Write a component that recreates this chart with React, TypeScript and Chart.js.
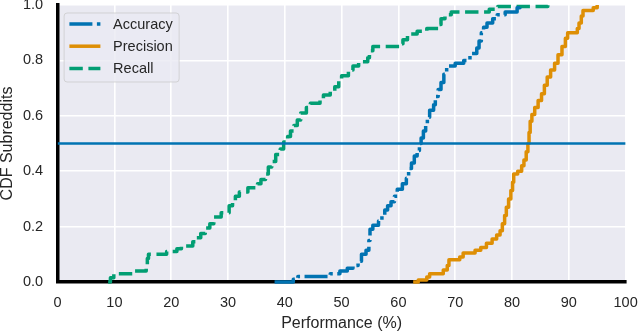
import React, { useEffect, useRef } from 'react';
import { Chart, registerables } from 'chart.js';

Chart.register(...registerables);

const accuracyX = [38.2, 41.5, 42.3, 48.0, 49.7, 51.0, 52.0, 52.9, 53.5, 54.3, 54.8, 55.0, 55.5, 56.5, 57.1, 57.6, 58.1, 58.7, 59.3, 59.8, 60.7, 61.4, 61.8, 62.3, 62.8, 63.3, 63.7, 64.0, 64.4, 64.8, 65.1, 65.5, 66.2, 66.5, 67.0, 67.5, 68.0, 68.5, 70.0, 71.5, 72.6, 73.8, 74.2, 74.6, 75.0, 75.6, 76.6, 77.4, 78.8, 80.9, 81.4];
const accuracyY = [0.0, 0.01, 0.02, 0.03, 0.04, 0.05, 0.06, 0.075, 0.1, 0.115, 0.15, 0.19, 0.205, 0.22, 0.24, 0.26, 0.275, 0.29, 0.31, 0.335, 0.355, 0.375, 0.41, 0.43, 0.455, 0.475, 0.5, 0.52, 0.545, 0.565, 0.595, 0.62, 0.64, 0.67, 0.695, 0.72, 0.75, 0.78, 0.79, 0.8, 0.825, 0.845, 0.87, 0.9, 0.92, 0.935, 0.95, 0.965, 0.975, 0.99, 1.0];

const precisionX = [62.6, 63.5, 65.0, 65.5, 67.9, 68.6, 68.9, 70.8, 71.4, 73.5, 74.5, 75.5, 76.5, 77.3, 77.9, 78.3, 78.7, 79.0, 79.4, 79.8, 80.1, 80.3, 81.0, 81.7, 82.1, 82.5, 82.8, 83.0, 83.2, 83.5, 84.0, 84.6, 85.2, 85.7, 86.2, 86.8, 87.5, 88.1, 88.8, 89.4, 89.8, 91.5, 91.8, 92.2, 92.5, 94.3, 95.0];
const precisionY = [0.0, 0.007, 0.018, 0.03, 0.043, 0.06, 0.08, 0.09, 0.105, 0.115, 0.125, 0.14, 0.155, 0.17, 0.185, 0.21, 0.24, 0.27, 0.3, 0.33, 0.36, 0.39, 0.4, 0.42, 0.44, 0.47, 0.5, 0.54, 0.58, 0.605, 0.63, 0.655, 0.68, 0.71, 0.74, 0.765, 0.79, 0.82, 0.85, 0.88, 0.9, 0.915, 0.935, 0.96, 0.98, 0.99, 1.0];

const recallX = [8.9, 9.3, 9.9, 13.5, 15.6, 15.8, 16.0, 19.2, 21.0, 21.8, 23.8, 24.3, 25.2, 26.0, 26.8, 27.5, 28.8, 30.2, 30.8, 31.3, 32.0, 33.5, 35.2, 35.8, 36.6, 37.1, 37.7, 38.4, 39.2, 39.8, 40.5, 41.0, 41.6, 42.2, 42.8, 43.8, 44.5, 46.2, 46.8, 48.0, 48.8, 49.5, 50.0, 51.2, 52.0, 53.0, 54.6, 54.9, 55.5, 60.2, 60.8, 61.6, 63.3, 65.0, 67.0, 67.5, 68.2, 69.3, 76.0, 77.5, 86.3];
const recallY = [0.0, 0.015, 0.03, 0.04, 0.06, 0.085, 0.1, 0.11, 0.12, 0.13, 0.145, 0.16, 0.175, 0.195, 0.21, 0.235, 0.25, 0.275, 0.29, 0.31, 0.325, 0.34, 0.355, 0.37, 0.39, 0.415, 0.435, 0.46, 0.48, 0.505, 0.525, 0.545, 0.565, 0.585, 0.61, 0.63, 0.645, 0.66, 0.675, 0.69, 0.705, 0.725, 0.745, 0.765, 0.78, 0.795, 0.81, 0.835, 0.85, 0.86, 0.875, 0.895, 0.905, 0.915, 0.93, 0.95, 0.965, 0.975, 0.985, 0.995, 1.0];

const thresholdX = [0, 100];
const thresholdY = [0.5, 0.5];

const seriesLabels = ['Accuracy', 'Precision', 'Recall'];
const xTickValues = [0, 10, 20, 30, 40, 50, 60, 70, 80, 90, 100];
const xTickLabels = ['0', '10', '20', '30', '40', '50', '60', '70', '80', '90', '100'];
const yTickValues = [0, 0.2, 0.4, 0.6, 0.8, 1.0];
const yTickLabels = ['0.0', '0.2', '0.4', '0.6', '0.8', '1.0'];
const xTitle = 'Performance (%)';
const yTitle = 'CDF Subreddits';

// ---- Styles ----
const FONT = '"Liberation Sans", Arial, Helvetica, sans-serif';
const TEXT = '#262626';
const BLUE = '#0173b2';
const ORANGE = '#de8f05';
const GREEN = '#029e73';
const LW = 3.5;
const DASHDOT = [23, 4.5, 3.5, 4.5];
const DASHED = [13.4, 5.6];

const toPts = (xs: number[], ys: number[]) => xs.map((x, i) => ({ x, y: ys[i] }));

const bgPlugin = {
  id: 'bgPlugin',
  beforeDraw(chart: any) {
    const { ctx, chartArea } = chart;
    ctx.save();
    ctx.fillStyle = '#eaeaf2';
    ctx.fillRect(chartArea.left, chartArea.top, chartArea.right - chartArea.left, chartArea.bottom - chartArea.top);
    ctx.restore();
  },
};

const legendPlugin = {
  id: 'customLegend',
  afterDatasetsDraw(chart: any) {
    const { ctx, chartArea } = chart;
    const bx = chartArea.left + 6.5;
    const by = chartArea.top + 8;
    const bw = 115;
    const bh = 69;
    ctx.save();
    ctx.beginPath();
    ctx.roundRect(bx, by, bw, bh, 3);
    ctx.fillStyle = 'rgba(234,234,242,0.8)';
    ctx.fill();
    ctx.strokeStyle = 'rgba(204,204,204,0.8)';
    ctx.lineWidth = 1;
    ctx.stroke();
    const styles = [
      { color: BLUE, dash: DASHDOT },
      { color: ORANGE, dash: [] as number[] },
      { color: GREEN, dash: DASHED },
    ];
    seriesLabels.forEach((label, i) => {
      const cy = by + 11 + i * 22.2;
      ctx.beginPath();
      ctx.setLineDash(styles[i].dash);
      ctx.lineCap = 'butt';
      ctx.strokeStyle = styles[i].color;
      ctx.lineWidth = LW;
      ctx.moveTo(bx + 5.3, cy);
      ctx.lineTo(bx + 36.3, cy);
      ctx.stroke();
      ctx.setLineDash([]);
      ctx.fillStyle = TEXT;
      ctx.font = `14.5px ${FONT}`;
      ctx.textBaseline = 'middle';
      ctx.textAlign = 'left';
      ctx.fillText(label, bx + 49, cy + 0.5);
    });
    ctx.restore();
  },
};

export default function App() {
  const ref = useRef<HTMLCanvasElement | null>(null);

  useEffect(() => {
    if (!ref.current) return;
    const chart = new Chart(ref.current, {
      type: 'line',
      data: {
        datasets: [
          {
            label: 'threshold',
            data: toPts(thresholdX, thresholdY),
            borderColor: BLUE,
            borderWidth: 2.5,
            pointRadius: 0,
            fill: false,
          },
          {
            label: seriesLabels[0],
            data: toPts(accuracyX, accuracyY),
            borderColor: BLUE,
            borderWidth: LW,
            borderDash: DASHDOT,
            borderCapStyle: 'butt',
            borderJoinStyle: 'round',
            stepped: 'before',
            pointRadius: 0,
            fill: false,
            clip: false,
          },
          {
            label: seriesLabels[1],
            data: toPts(precisionX, precisionY),
            borderColor: ORANGE,
            borderWidth: LW,
            borderCapStyle: 'butt',
            borderJoinStyle: 'round',
            stepped: 'before',
            pointRadius: 0,
            fill: false,
            clip: false,
          },
          {
            label: seriesLabels[2],
            data: toPts(recallX, recallY),
            borderColor: GREEN,
            borderWidth: LW,
            borderDash: DASHED,
            borderCapStyle: 'butt',
            borderJoinStyle: 'round',
            stepped: 'before',
            pointRadius: 0,
            fill: false,
            clip: false,
          },
        ],
      },
      options: {
        responsive: false,
        animation: false,
        events: [],
        layout: { padding: { top: 5, right: 12.4, left: 0, bottom: 0 } },
        plugins: {
          legend: { display: false },
          tooltip: { enabled: false },
        },
        scales: {
          x: {
            type: 'linear',
            min: 0,
            max: 100,
            afterBuildTicks: (scale: any) => {
              scale.ticks = xTickValues.map((v) => ({ value: v }));
            },
            afterFit: (scale: any) => {
              scale.height = 52;
              scale.paddingLeft = 0;
              scale.paddingRight = 0;
            },
            ticks: {
              autoSkip: false,
              maxRotation: 0,
              padding: 12.3,
              color: TEXT,
              font: { family: FONT, size: 14.5 },
              callback: (_v: any, i: number) => xTickLabels[i],
            },
            grid: { color: '#ffffff', lineWidth: 1.6, drawTicks: false },
            border: { display: true, color: '#000000', width: 3.5 },
            title: {
              display: true,
              text: xTitle,
              color: TEXT,
              font: { family: FONT, size: 16, lineHeight: 1 },
              padding: { top: 0, bottom: 2.5 },
            },
          },
          y: {
            type: 'linear',
            min: 0,
            max: 1,
            afterBuildTicks: (scale: any) => {
              scale.ticks = yTickValues.map((v) => ({ value: v }));
            },
            afterFit: (scale: any) => {
              scale.width = 57.6;
              scale.paddingTop = 0;
              scale.paddingBottom = 0;
            },
            ticks: {
              autoSkip: false,
              padding: 14.5,
              color: TEXT,
              font: { family: FONT, size: 14.5 },
              callback: (_v: any, i: number) => yTickLabels[i],
            },
            grid: { color: '#ffffff', lineWidth: 1.6, drawTicks: false },
            border: { display: true, color: '#000000', width: 3.5 },
            title: {
              display: true,
              text: yTitle,
              color: TEXT,
              font: { family: FONT, size: 16, lineHeight: 1 },
              padding: { top: 0, bottom: 0 },
            },
          },
        },
      },
      plugins: [bgPlugin, legendPlugin],
    } as any);
    return () => chart.destroy();
  }, []);

  return (
    <div style={{ position: 'absolute', left: 0, top: 0, width: 638, height: 334 }}>
      <canvas ref={ref} width={638} height={334} style={{ display: 'block' }} />
    </div>
  );
}
